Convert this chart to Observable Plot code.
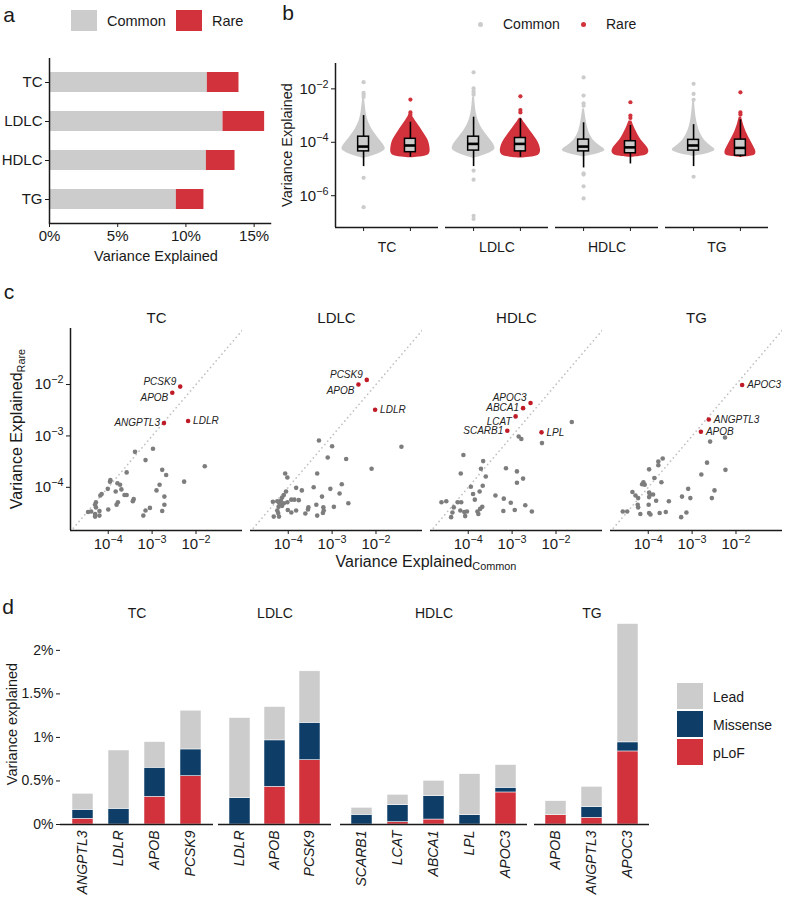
<!DOCTYPE html>
<html><head><meta charset="utf-8">
<script src="https://cdn.jsdelivr.net/npm/d3@7"></script>
<script src="https://cdn.jsdelivr.net/npm/@observablehq/plot@0.6"></script>
<style>
body{margin:0;background:#fff;font-family:"Liberation Sans",Arial,Helvetica,sans-serif;color:#1a1a1a;}
#root{position:relative;width:786px;height:900px;overflow:hidden;background:#fff;}
#root div{white-space:nowrap;line-height:1;}
sub{font-size:0.68em;vertical-align:-0.25em;}
</style></head><body><div id="root"></div>
<script>
// ---------------- DATA ----------------
const traits = ["TC", "LDLC", "HDLC", "TG"];
const variantTypes = ["Common", "Rare"];

// panel a: variance explained (%)
const commonVE = [11.57, 12.72, 11.50, 9.30];
const rareVE = [2.32, 3.05, 2.10, 2.02];
const veTicks = [0, 5, 10, 15];

// panel b: per-variant variance explained, log10 values
// violin profiles: [log10 value, relative density width]
const tcCommonViolin = [[-2.35,0.04],[-2.6,0.07],[-2.9,0.11],[-3.1,0.16],[-3.3,0.24],[-3.5,0.36],[-3.7,0.52],[-3.9,0.7],[-4.05,0.85],[-4.2,0.97],[-4.3,0.95],[-4.4,0.75],[-4.5,0.45],[-4.57,0.15],[-4.6,0.03]];
const tcRareViolin = [[-2.95,0.05],[-3.1,0.15],[-3.3,0.3],[-3.5,0.48],[-3.7,0.62],[-3.9,0.78],[-4.1,0.85],[-4.3,0.88],[-4.45,0.85],[-4.53,0.7],[-4.58,0.1]];
const ldlcCommonViolin = [[-2.3,0.04],[-2.6,0.07],[-2.9,0.11],[-3.1,0.17],[-3.3,0.25],[-3.5,0.38],[-3.7,0.55],[-3.9,0.74],[-4.05,0.88],[-4.2,0.96],[-4.3,0.93],[-4.4,0.72],[-4.5,0.42],[-4.57,0.14],[-4.6,0.03]];
const ldlcRareViolin = [[-3.1,0.05],[-3.3,0.2],[-3.5,0.38],[-3.7,0.55],[-3.9,0.72],[-4.1,0.85],[-4.3,0.9],[-4.45,0.87],[-4.54,0.7],[-4.59,0.1]];
const hdlcCommonViolin = [[-2.75,0.04],[-3.0,0.08],[-3.3,0.13],[-3.6,0.22],[-3.8,0.33],[-4.0,0.5],[-4.15,0.75],[-4.28,1.0],[-4.38,0.85],[-4.46,0.5],[-4.52,0.15],[-4.55,0.03]];
const hdlcRareViolin = [[-3.2,0.06],[-3.4,0.15],[-3.6,0.26],[-3.8,0.38],[-4.0,0.55],[-4.15,0.72],[-4.3,0.83],[-4.45,0.8],[-4.52,0.55],[-4.56,0.1]];
const tgCommonViolin = [[-2.45,0.04],[-2.8,0.07],[-3.1,0.11],[-3.4,0.18],[-3.6,0.26],[-3.8,0.38],[-4.0,0.55],[-4.15,0.78],[-4.27,1.0],[-4.37,0.85],[-4.45,0.5],[-4.5,0.15],[-4.53,0.03]];
const tgRareViolin = [[-3.05,0.05],[-3.3,0.12],[-3.5,0.2],[-3.7,0.3],[-3.9,0.42],[-4.1,0.55],[-4.3,0.68],[-4.45,0.7],[-4.52,0.55],[-4.56,0.1]];
// isolated points (log10)
const tcCommonOut = [-1.75, -2.15, -2.22, -2.30, -5.33, -6.43];
const tcRareOut = [-2.40, -2.88, -2.97];
const ldlcCommonOut = [-1.38, -1.98, -2.08, -2.15, -2.22, -5.06, -5.40, -6.75, -6.87];
const ldlcRareOut = [-2.28, -2.79, -2.88];
const hdlcCommonOut = [-1.57, -2.25, -2.54, -2.63, -5.16, -5.21, -5.65, -6.10];
const hdlcRareOut = [-2.50, -3.00, -3.09];
const tgCommonOut = [-1.81, -2.19, -2.41, -5.29];
const tgRareOut = [-2.13, -2.88, -2.96];
// boxplots (log10): [lower whisker, q1, median, q3, upper whisker]
const tcCommonBox = [-4.91, -4.34, -4.16, -3.79, -3.00];
const tcRareBox = [-4.56, -4.37, -4.12, -3.87, -3.25];
const ldlcCommonBox = [-4.91, -4.31, -4.06, -3.79, -3.06];
const ldlcRareBox = [-4.56, -4.34, -4.06, -3.84, -3.12];
const hdlcCommonBox = [-4.96, -4.34, -4.16, -3.90, -3.27];
const hdlcRareBox = [-4.81, -4.41, -4.19, -3.96, -3.37];
const tgCommonBox = [-4.91, -4.31, -4.12, -3.91, -3.34];
const tgRareBox = [-4.56, -4.50, -4.21, -3.90, -3.16];

// panel c: gene-level variance explained, [log10 common, log10 rare]
const tcOtherGenes = [[-3.39,-3.31],[-2.98,-3.25],[-3.15,-3.47],[-3.58,-3.71],[-3.95,-3.86],[-3.96,-3.89],[-3.79,-3.92],[-3.73,-3.95],[-3.70,-4.04],[-3.83,-4.08],[-4.01,-4.03],[-4.15,-4.13],[-4.18,-4.16],[-3.58,-4.15],[-3.63,-4.15],[-3.42,-4.23],[-3.44,-4.27],[-3.78,-4.29],[-3.81,-4.34],[-4.00,-4.43],[-4.28,-4.29],[-4.30,-4.34],[-4.28,-4.39],[-4.20,-4.46],[-4.20,-4.55],[-4.30,-4.52],[-4.30,-4.57],[-4.46,-4.48],[-4.39,-4.47],[-2.77,-3.66],[-2.68,-3.76],[-2.83,-3.95],[-2.90,-4.06],[-2.72,-4.18],[-2.72,-4.34],[-2.77,-4.46],[-3.05,-4.40],[-3.15,-4.45],[-3.20,-4.55],[-1.80,-3.59],[-2.27,-3.89]];
const ldlcOtherGenes = [[-3.30,-3.09],[-3.00,-3.20],[-3.10,-3.42],[-2.68,-3.45],[-3.34,-3.73],[-4.07,-3.73],[-4.02,-3.81],[-2.10,-3.64],[-2.78,-3.94],[-3.04,-4.03],[-2.83,-4.12],[-3.42,-4.00],[-3.23,-4.18],[-3.82,-4.01],[-3.69,-4.06],[-4.05,-4.08],[-4.10,-4.15],[-4.14,-4.20],[-3.93,-4.24],[-3.86,-4.24],[-3.76,-4.25],[-4.35,-4.28],[-4.25,-4.27],[-4.17,-4.26],[-4.20,-4.31],[-4.10,-4.31],[-4.02,-4.29],[-4.22,-4.38],[-4.14,-4.36],[-4.25,-4.45],[-4.23,-4.50],[-4.33,-4.57],[-4.21,-4.57],[-4.01,-4.44],[-3.93,-4.49],[-3.82,-4.45],[-3.61,-4.51],[-3.55,-4.43],[-3.54,-4.39],[-3.36,-4.34],[-3.20,-4.39],[-3.19,-4.45],[-3.21,-4.50],[-3.34,-4.55],[-2.96,-4.38],[-2.63,-4.31],[-1.42,-3.21]];
const hdlcOtherGenes = [[-1.64,-2.73],[-2.85,-3.01],[-2.79,-3.06],[-2.32,-3.14],[-4.11,-3.37],[-3.66,-3.49],[-4.17,-3.73],[-3.71,-3.64],[-3.60,-3.79],[-3.14,-3.63],[-2.89,-3.69],[-2.75,-3.83],[-2.89,-3.91],[-3.94,-3.99],[-3.67,-3.97],[-3.74,-4.08],[-3.89,-4.13],[-3.85,-4.24],[-3.38,-4.16],[-3.19,-4.22],[-3.03,-4.30],[-2.70,-4.35],[-2.55,-4.47],[-2.94,-4.44],[-3.20,-4.46],[-4.61,-4.29],[-4.50,-4.27],[-4.24,-4.29],[-4.16,-4.29],[-4.33,-4.39],[-4.36,-4.49],[-4.39,-4.58],[-4.18,-4.45],[-4.09,-4.48],[-4.03,-4.47],[-4.07,-4.56],[-3.79,-4.47],[-3.73,-4.42],[-3.68,-4.38],[-3.77,-4.52]];
const tgOtherGenes = [[-2.25,-3.03],[-2.59,-3.11],[-3.67,-3.44],[-3.77,-3.50],[-3.77,-3.57],[-3.98,-3.65],[-3.86,-3.82],[-3.70,-3.90],[-4.11,-3.90],[-4.14,-3.94],[-4.08,-3.95],[-2.66,-3.52],[-2.79,-3.75],[-2.24,-3.66],[-4.36,-4.09],[-4.29,-4.16],[-3.98,-4.10],[-3.96,-4.14],[-3.98,-4.19],[-3.89,-4.14],[-4.23,-4.21],[-4.24,-4.34],[-4.23,-4.39],[-3.99,-4.34],[-3.82,-4.26],[-3.53,-4.27],[-3.23,-4.18],[-3.04,-4.21],[-3.09,-4.03],[-2.49,-4.06],[-2.55,-4.21],[-4.58,-4.47],[-4.48,-4.47],[-4.18,-4.52],[-3.98,-4.50],[-3.95,-4.53],[-3.74,-4.50],[-3.60,-4.48],[-3.25,-4.58],[-3.13,-4.49]];
const tcTopGenes = ["PCSK9", "APOB", "ANGPTL3", "LDLR"];
const tcTopCommon = [-2.36, -2.54, -2.73, -2.18];
const tcTopRare = [-2.04, -2.16, -2.75, -2.71];
const ldlcTopGenes = ["PCSK9", "APOB", "LDLR"];
const ldlcTopCommon = [-2.21, -2.40, -2.02];
const ldlcTopRare = [-1.91, -2.00, -2.49];
const hdlcTopGenes = ["APOC3", "ABCA1", "LCAT", "SCARB1", "LPL"];
const hdlcTopCommon = [-2.58, -2.75, -2.92, -3.11, -2.33];
const hdlcTopRare = [-2.36, -2.46, -2.62, -2.90, -2.93];
const tgTopGenes = ["APOC3", "ANGPTL3", "APOB"];
const tgTopCommon = [-1.86, -2.62, -2.80];
const tgTopRare = [-2.01, -2.68, -2.92];

// panel d: variance explained (%) by variant class
const dCategories = ["Lead", "Missense", "pLoF"];
const dGenesTC = ["ANGPTL3", "LDLR", "APOB", "PCSK9"];
const dPlofTC = [0.065, 0, 0.318, 0.555];
const dMissenseTC = [0.104, 0.18, 0.334, 0.307];
const dLeadTC = [0.184, 0.67, 0.294, 0.445];
const dGenesLDLC = ["LDLR", "APOB", "PCSK9"];
const dPlofLDLC = [0, 0.433, 0.739];
const dMissenseLDLC = [0.303, 0.533, 0.429];
const dLeadLDLC = [0.919, 0.383, 0.591];
const dGenesHDLC = ["SCARB1", "LCAT", "ABCA1", "LPL", "APOC3"];
const dPlofHDLC = [0, 0.027, 0.057, 0, 0.368];
const dMissenseHDLC = [0.111, 0.195, 0.268, 0.107, 0.054];
const dLeadHDLC = [0.081, 0.119, 0.177, 0.471, 0.26];
const dGenesTG = ["APOB", "ANGPTL3", "APOC3"];
const dPlofTG = [0.107, 0.077, 0.839];
const dMissenseTG = [0, 0.122, 0.104];
const dLeadTG = [0.161, 0.234, 1.359];
const dTicks = [0, 0.5, 1, 1.5, 2];

// ---------------- STYLE / HELPERS ----------------
const FONT = '"Liberation Sans", Arial, Helvetica, sans-serif';
const GRAY = "#cccccc", RED = "#d1323c", NAVY = "#0e3e68", DOTGRAY = "#7d7d7d", DOTRED = "#bf1b26";
const INK = "#1a1a1a";
const baseStyle = (fs) => ({background: "none", fontFamily: FONT, fontSize: fs + "px", color: INK, overflow: "visible"});
const pow10Label = d => "10^" + Math.round(Math.log10(d));
// turn "10^-4" tick texts into 10 with a raised exponent
function raiseExponents(svg) {
  d3.select(svg).selectAll("text").each(function () {
    const t = this.textContent;
    const m = /^10\^(-?\d+)$/.exec(t);
    if (!m) return;
    const sel = d3.select(this);
    sel.text(null);
    sel.append("tspan").text("10");
    sel.append("tspan").attr("dy", "-0.55em").attr("font-size", "0.72em").text(m[1].replace("-", "\u2212"));
  });
  return svg;
}
const root = document.getElementById("root");
function put(node, left, top) {
  node.style.position = "absolute"; node.style.left = left + "px"; node.style.top = top + "px";
  root.appendChild(node); return node;
}
function label(html, cx, cy, size, extra) {
  const d = document.createElement("div");
  d.innerHTML = html;
  d.style.cssText = `font-size:${size}px;transform:translate(-50%,-50%) ${extra || ""};`;
  return put(d, cx, cy);
}
function leftLabel(html, x, cy, size) {
  const d = document.createElement("div");
  d.innerHTML = html;
  d.style.cssText = `font-size:${size}px;transform:translate(0,-50%);`;
  return put(d, x, cy);
}
function swatch(x, y, w, h, color, round) {
  const d = document.createElement("div");
  d.style.cssText = `width:${w}px;height:${h}px;background:${color};${round ? "border-radius:50%;" : ""}`;
  return put(d, x, y);
}

// ---------------- PANEL A ----------------
const aRows = traits.flatMap((t, i) => [
  {trait: t, type: "Common", v: commonVE[i]},
  {trait: t, type: "Rare", v: rareVE[i]}
]);
const plotA = Plot.plot({
  width: 272, height: 245, marginLeft: 49, marginRight: 2, marginTop: 58, marginBottom: 22,
  style: baseStyle(15),
  x: {domain: [0, 16.2], label: null},
  y: {domain: traits, paddingInner: 0.5, paddingOuter: 0.35, label: null},
  color: {domain: variantTypes, range: [GRAY, RED]},
  marks: [
    Plot.barX(aRows, {y: "trait", x: "v", fill: "type"}),
    Plot.ruleX([0], {strokeWidth: 1.5, stroke: INK}),
    Plot.frame({anchor: "bottom", strokeWidth: 1.5, stroke: INK}),
    Plot.axisX({ticks: veTicks, tickFormat: d => d + "%", tickSize: 4, tickPadding: 3, label: null}),
    Plot.axisY({tickSize: 4, tickPadding: 3, label: null})
  ]
});
put(plotA, 0, 0);
label("a", 9, 14, 21);
swatch(71, 10, 26, 21, GRAY);
leftLabel("Common", 107, 21, 14.5);
swatch(176, 10, 26, 21, RED);
leftLabel("Rare", 212, 21, 14.5);
label("Variance Explained", 156, 256, 14.5);

// ---------------- PANEL B ----------------
const bPos = {Common: 1, Rare: 2};
const bXDomain = [0.4, 2.6];
const bYDomain = [10 ** -7.19, 10 ** -1.05];
const violinHalf = 0.484;
const bSets = [
  ["TC", "Common", tcCommonViolin, tcCommonOut, tcCommonBox],
  ["TC", "Rare", tcRareViolin, tcRareOut, tcRareBox],
  ["LDLC", "Common", ldlcCommonViolin, ldlcCommonOut, ldlcCommonBox],
  ["LDLC", "Rare", ldlcRareViolin, ldlcRareOut, ldlcRareBox],
  ["HDLC", "Common", hdlcCommonViolin, hdlcCommonOut, hdlcCommonBox],
  ["HDLC", "Rare", hdlcRareViolin, hdlcRareOut, hdlcRareBox],
  ["TG", "Common", tgCommonViolin, tgCommonOut, tgCommonBox],
  ["TG", "Rare", tgRareViolin, tgRareOut, tgRareBox]
];
const violinRows = bSets.flatMap(([trait, type, prof]) => prof.map(([lv, w]) => ({trait, type, lv, w})));
const outRows = bSets.flatMap(([trait, type, , outs]) => outs.map(lv => ({trait, type, lv})));
const boxRows = bSets.map(([trait, type, , , b]) => ({trait, type, lo: b[0], q1: b[1], med: b[2], q3: b[3], hi: b[4]}));
const boxHalf = 0.116;
const plotB = Plot.plot({
  width: 536, height: 262, marginLeft: 83, marginRight: 16, marginTop: 63, marginBottom: 35,
  style: baseStyle(14),
  fx: {domain: traits, paddingInner: 0.063, paddingOuter: 0, label: null},
  x: {domain: bXDomain, label: null},
  y: {type: "log", domain: bYDomain, label: null},
  color: {domain: variantTypes, range: [GRAY, RED]},
  marks: [
    Plot.areaX(violinRows, {fx: "trait", y: d => 10 ** d.lv, x1: d => bPos[d.type] - d.w * violinHalf, x2: d => bPos[d.type] + d.w * violinHalf, fill: "type", z: "type", curve: "basis"}),
    Plot.dot(outRows, {fx: "trait", x: d => bPos[d.type], y: d => 10 ** d.lv, fill: "type", r: 2.1}),
    Plot.ruleX(boxRows, {fx: "trait", x: d => bPos[d.type], y1: d => 10 ** d.lo, y2: d => 10 ** d.hi, stroke: "black", strokeWidth: 1.6}),
    Plot.rect(boxRows, {fx: "trait", x1: d => bPos[d.type] - boxHalf, x2: d => bPos[d.type] + boxHalf, y1: d => 10 ** d.q1, y2: d => 10 ** d.q3, fill: GRAY, stroke: "black", strokeWidth: 1.5}),
    Plot.ruleY(boxRows, {fx: "trait", y: d => 10 ** d.med, x1: d => bPos[d.type] - boxHalf, x2: d => bPos[d.type] + boxHalf, stroke: "black", strokeWidth: 2.6}),
    Plot.ruleY([bYDomain[0]], {stroke: INK, strokeWidth: 1.5}),
    Plot.ruleX([{trait: traits[0], x: bXDomain[0]}], {fx: "trait", x: "x", stroke: INK, strokeWidth: 1.5}),
    Plot.axisY({ticks: [1e-6, 1e-4, 1e-2], tickFormat: pow10Label, tickSize: 4, tickPadding: 3, label: null, fontSize: 15}),
    Plot.axisX({ticks: [bPos.Common, bPos.Rare], tickFormat: () => "", tickSize: 4, label: null}),
    Plot.axisFx({anchor: "bottom", tickSize: 0, tickPadding: 15, label: null})
  ]
});
put(raiseExponents(plotB), 250, 0);
label("b", 288, 12, 21);
swatch(477.5, 21.5, 5, 5, GRAY, true);
leftLabel("Common", 503, 24, 14);
swatch(580.5, 21.5, 5, 5, RED, true);
leftLabel("Rare", 606, 24, 14);
label("Variance Explained", 287, 145, 14.5, "rotate(-90deg)");

// ---------------- PANEL C ----------------
const cXDomain = [10 ** -4.86, 10 ** -0.94];
const cYDomain = [10 ** -4.84, 10 ** -0.91];
const cOther = [["TC", tcOtherGenes], ["LDLC", ldlcOtherGenes], ["HDLC", hdlcOtherGenes], ["TG", tgOtherGenes]]
  .flatMap(([trait, arr]) => arr.map(([c, r]) => ({trait, common: 10 ** c, rare: 10 ** r})));
const cTop = [["TC", tcTopGenes, tcTopCommon, tcTopRare], ["LDLC", ldlcTopGenes, ldlcTopCommon, ldlcTopRare],
  ["HDLC", hdlcTopGenes, hdlcTopCommon, hdlcTopRare], ["TG", tgTopGenes, tgTopCommon, tgTopRare]]
  .flatMap(([trait, g, c, r]) => g.map((gene, i) => ({trait, gene, common: 10 ** c[i], rare: 10 ** r[i]})));
// label placement: side and vertical nudge (px)
const nudge = {
  "TC|PCSK9": ["l", -5], "TC|APOB": ["l", 5], "TC|ANGPTL3": ["l", 0], "TC|LDLR": ["r", 0],
  "LDLC|PCSK9": ["l", -5], "LDLC|APOB": ["l", 6], "LDLC|LDLR": ["r", 0],
  "HDLC|APOC3": ["l", -5], "HDLC|ABCA1": ["l", 0], "HDLC|LCAT": ["l", 5], "HDLC|SCARB1": ["l", 0], "HDLC|LPL": ["r", 0],
  "TG|APOC3": ["r", 0], "TG|ANGPTL3": ["r", 0], "TG|APOB": ["r", 0]
};
const sel = (side, dy) => cTop.filter(d => { const n = nudge[d.trait + "|" + d.gene]; return n[0] === side && n[1] === dy; });
const cLabelMarks = [["l", -5], ["l", 0], ["l", 5], ["l", 6], ["r", 0]].map(([side, dy]) =>
  Plot.text(sel(side, dy), {fx: "trait", x: "common", y: "rare", text: "gene", textAnchor: side === "l" ? "end" : "start",
    dx: side === "l" ? -4 : 5, dy, fontStyle: "italic", fontSize: 10, fill: "#222"}));
const plotC = Plot.plot({
  width: 786, height: 262, marginLeft: 69, marginRight: 3, marginTop: 28, marginBottom: 32,
  style: baseStyle(13),
  fx: {domain: traits, paddingInner: 0.0443, paddingOuter: 0, label: null},
  x: {type: "log", domain: cXDomain, label: null},
  y: {type: "log", domain: cYDomain, label: null},
  marks: [
    Plot.line(cXDomain, {x: d => d, y: d => d, stroke: "#c2c2c2", strokeWidth: 1.7, strokeDasharray: "0.1 4.3", strokeLinecap: "round", clip: true}),
    Plot.dot(cOther, {fx: "trait", x: "common", y: "rare", r: 2.3, fill: DOTGRAY}),
    Plot.dot(cTop, {fx: "trait", x: "common", y: "rare", r: 2.3, fill: DOTRED}),
    ...cLabelMarks,
    Plot.ruleY([cYDomain[0]], {stroke: INK, strokeWidth: 1.5}),
    Plot.ruleX([{trait: traits[0], x: cXDomain[0]}], {fx: "trait", x: "x", stroke: INK, strokeWidth: 1.5}),
    Plot.axisY({ticks: [1e-4, 1e-3, 1e-2], tickFormat: pow10Label, tickSize: 4, tickPadding: 3, label: null, fontSize: 15}),
    Plot.axisX({ticks: [1e-4, 1e-3, 1e-2], tickFormat: pow10Label, tickSize: 4, tickPadding: 4, label: null, fontSize: 15}),
    Plot.axisFx({anchor: "top", tickSize: 0, tickPadding: 6, label: null, fontSize: 15})
  ]
});
put(raiseExponents(plotC), 0, 300);
label("c", 9, 291, 21);
label("Variance Explained<sub>Rare</sub>", 18, 429, 16, "rotate(-90deg)");
label("Variance Explained<sub>Common</sub>", 426, 563, 16);

// ---------------- PANEL D ----------------
function panelD(trait, genes, plof, mis, lead, left, innerWidth, withY) {
  const rows = genes.flatMap((g, i) => [
    {trait, gene: g, cat: "pLoF", v: plof[i]},
    {trait, gene: g, cat: "Missense", v: mis[i]},
    {trait, gene: g, cat: "Lead", v: lead[i]}
  ]);
  const ml = withY ? 60 : 0;
  const marks = [
    Plot.barY(rows, {fx: "trait", x: "gene", y: "v", fill: "cat", stroke: "white", strokeWidth: 0.5}),
    Plot.ruleY([0], {stroke: INK, strokeWidth: 1.5}),
    Plot.axisFx({anchor: "top", tickSize: 0, tickPadding: 5, label: null}),
    Plot.axisX({tickRotate: -90, tickSize: 0, tickPadding: 6, fontStyle: "italic", fontSize: 14, label: null})
  ];
  if (withY) marks.push(Plot.axisY({ticks: dTicks, tickFormat: d => d + "%", tickSize: 4, tickPadding: 3, label: null}));
  const p = Plot.plot({
    width: innerWidth + ml, height: 300, marginLeft: ml, marginRight: 0, marginTop: 22, marginBottom: 76,
    style: baseStyle(14),
    fx: {domain: [trait], padding: 0, label: null},
    x: {domain: genes, paddingInner: 0.41, paddingOuter: 0.3, label: null},
    y: withY ? {domain: [0, 2.32], label: null} : {domain: [0, 2.32], label: null, axis: null},
    color: {domain: dCategories, range: [GRAY, NAVY, RED]},
    marks
  });
  put(p, withY ? left - ml : left, 600);
}
panelD("TC", dGenesTC, dPlofTC, dMissenseTC, dLeadTC, 60, 153, true);
panelD("LDLC", dGenesLDLC, dPlofLDLC, dMissenseLDLC, dLeadLDLC, 218, 113, false);
panelD("HDLC", dGenesHDLC, dPlofHDLC, dMissenseHDLC, dLeadHDLC, 340, 187, false);
panelD("TG", dGenesTG, dPlofTG, dMissenseTG, dLeadTG, 534, 115, false);
label("d", 8, 606, 21);
label("Variance explained", 12, 724, 14.5, "rotate(-90deg)");
swatch(677, 683, 26, 26, GRAY);
swatch(677, 711, 26, 26, NAVY);
swatch(677, 739, 26, 26, RED);
leftLabel("Lead", 713, 697, 14);
leftLabel("Missense", 713, 725, 14);
leftLabel("pLoF", 713, 753, 14);
</script></body></html>
